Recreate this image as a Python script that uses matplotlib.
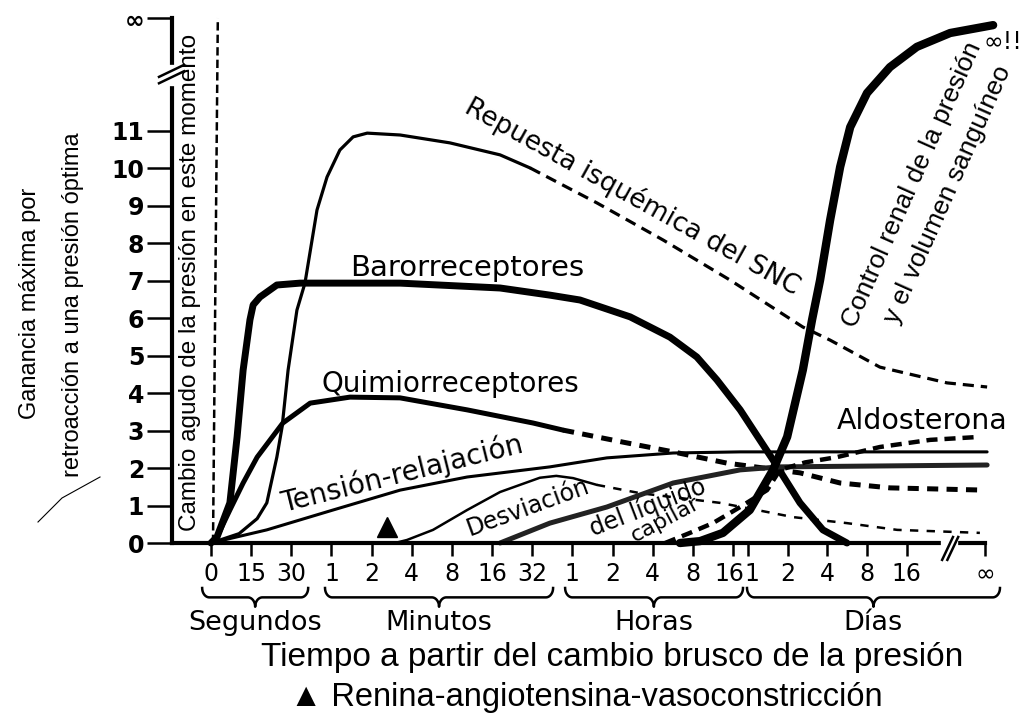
import numpy as np
import matplotlib
matplotlib.use('Agg')
import matplotlib.pyplot as plt
from matplotlib.lines import Line2D
from matplotlib.transforms import ScaledTranslation

plt.rcParams['font.family'] = ['DejaVu Sans']
plt.rcParams['lines.scale_dashes'] = False
helv = ['Liberation Sans', 'DejaVu Sans']

# x tick slots (one slot per tick, days shifted a bit) and labels
tick_pos = [0, 1, 2, 3, 4, 5, 6, 7, 8, 9, 10, 11, 12, 13,
            13.37, 14.36, 15.35, 16.34, 17.33, 19.28]
tick_lab = ['0', '15', '30', '1', '2', '4', '8', '16', '32',
            '1', '2', '4', '8', '16', '1', '2', '4', '8', '16', '∞']
y_ticks = [0, 1, 2, 3, 4, 5, 6, 7, 8, 9, 10, 11, 14]
y_lab = ['0', '1', '2', '3', '4', '5', '6', '7', '8', '9', '10', '11', '∞']

groups = ['Segundos', 'Minutos', 'Horas', 'Días']
group_span = [(-0.22, 2.42, 1.1), (2.84, 8.52, 5.68), (8.82, 13.25, 11.03), (13.35, 19.65, 16.5)]

# curves (x in tick slots, y = gain)
baro_x = [0, 0.15, 0.47, 0.65, 0.80, 0.97, 1.05, 1.22, 1.64, 2.22, 4.71, 7.20, 8.44, 9.19,
          10.44, 11.43, 12.10, 12.60, 13.18, 14.00, 14.67, 15.24, 15.84]
baro_y = [0, 0.16, 1.07, 2.83, 4.61, 5.95, 6.35, 6.56, 6.88, 6.93, 6.93, 6.80, 6.61, 6.48,
          6.03, 5.49, 4.96, 4.35, 3.55, 2.21, 1.07, 0.35, 0]

cns_x = [0, 0.7, 1.15, 1.39, 1.64, 1.77, 1.92, 2.14, 2.34, 2.64, 2.89, 3.21, 3.54, 3.89,
         4.71, 5.95, 7.20, 7.95]
cns_y = [0, 0.25, 0.65, 1.07, 2.29, 3.09, 4.61, 6.21, 6.93, 8.88, 9.76, 10.48, 10.83, 10.93,
         10.88, 10.67, 10.35, 10.0]
cns_dx = [7.95, 9.61, 11.26, 12.93, 14.74, 15.42, 16.66, 18.33, 19.33]
cns_dy = [10.0, 9.07, 8.08, 7.01, 5.76, 5.41, 4.69, 4.27, 4.16]

quim_x = [0, 0.15, 0.47, 0.80, 1.15, 1.79, 2.47, 3.46, 4.71, 6.38, 8.02, 8.77]
quim_y = [0, 0.16, 0.88, 1.6, 2.29, 3.2, 3.73, 3.89, 3.87, 3.55, 3.2, 3.01]
quim_dx = [8.77, 10.26, 11.51, 12.85, 14.67, 15.67, 16.91, 19.28]
quim_dy = [3.01, 2.69, 2.43, 2.13, 1.87, 1.6, 1.47, 1.41]

tens_x = [0, 1.39, 3.04, 4.71, 6.38, 8.44, 9.86, 11.51, 13.18, 19.33]
tens_y = [0, 0.35, 0.88, 1.41, 1.76, 2.03, 2.27, 2.40, 2.43, 2.43]

ren_x = [4.58, 4.88, 5.53, 6.38, 7.20, 8.19, 8.6, 9.02, 9.61]
ren_y = [0, 0.08, 0.35, 0.88, 1.36, 1.74, 1.79, 1.73, 1.55]
ren_dx = [9.61, 10.68, 12.68, 13.60, 14.50, 15.84, 17.09, 19.15]
ren_dy = [1.55, 1.33, 1.07, 0.88, 0.69, 0.53, 0.35, 0.27]
ren_mark = (4.38, 0.43)

cap_x = [7.2, 8.44, 9.86, 11.51, 13.18, 14.17, 19.33]
cap_y = [0, 0.53, 0.96, 1.6, 1.95, 2.03, 2.08]

aldo_x = [11.31, 11.93, 12.5, 13.18, 13.85, 14.17, 14.8, 15.59, 16.66, 17.91, 19.15]
aldo_y = [0, 0.27, 0.53, 0.96, 1.41, 1.95, 2.15, 2.29, 2.56, 2.75, 2.83]

renal_x = [11.68, 12.18, 12.75, 13.42, 14.0, 14.35, 14.74, 14.97, 15.17, 15.42, 15.67,
           15.92, 16.34, 16.91, 17.58, 18.41, 19.48]
renal_y = [0, 0.05, 0.27, 0.88, 1.95, 2.83, 4.61, 5.95, 7.01, 8.61, 10.03,
           11.09, 12.0, 12.69, 13.23, 13.6, 13.81]

fig = plt.figure(figsize=(10.23, 7.15), dpi=100)
ax = fig.add_axes([150 / 1023, 155 / 715, 873 / 1023, 560 / 715])
ax.set_xlim(-1.5193, 20.224)
ax.set_ylim(-0.4533, 14.48)
x_left = -0.971

for s in ['top', 'right']:
    ax.spines[s].set_visible(False)
ax.spines['left'].set_position(('data', x_left))
ax.spines['bottom'].set_position(('data', 0))
ax.spines['left'].set_bounds(0, 14)
ax.spines['bottom'].set_bounds(x_left, 19.28)
ax.spines['left'].set_linewidth(3)
ax.spines['bottom'].set_linewidth(3)

ax.set_xticks(tick_pos)
ax.set_xticklabels(tick_lab)
ax.set_yticks(y_ticks)
ax.set_yticklabels(y_lab, fontweight='bold')
ax.tick_params(axis='x', length=9, width=1.8, pad=5, labelsize=17)
ax.tick_params(axis='y', length=18, width=1.8, pad=2, labelsize=17)

# "16" (hours) and "1" (days) sit nearly on top of each other: nudge apart a little
xlabs = ax.get_xticklabels()
for i, shift in ((13, -4), (14, 4)):
    xlabs[i].set_transform(xlabs[i].get_transform() +
                           ScaledTranslation(shift / 100, 0, fig.dpi_scale_trans))

kw = dict(color='black', clip_on=False, solid_capstyle='round', solid_joinstyle='round')
ax.plot(baro_x, baro_y, lw=5, **kw)
ax.plot(cns_x, cns_y, lw=2.3, **kw)
ax.plot(cns_dx, cns_dy, lw=2.3, dashes=(8, 5), **kw)
ax.plot(quim_x, quim_y, lw=3.6, **kw)
ax.plot(quim_dx, quim_dy, lw=3.6, dashes=(8, 6), **kw)
ax.plot(tens_x, tens_y, lw=2.2, **kw)
ax.plot(ren_x, ren_y, lw=1.8, **kw)
ax.plot(ren_dx, ren_dy, lw=1.8, dashes=(6, 6), **kw)
ax.plot(cap_x, cap_y, lw=3.6, color='#222222', clip_on=False, solid_capstyle='round')
ax.plot(aldo_x, aldo_y, lw=3.2, color='black', clip_on=False, dashes=(8, 5))
ax.plot(renal_x, renal_y, lw=6, **kw)
ax.plot([ren_mark[0]], [ren_mark[1]], marker='^', ms=15, color='black', clip_on=False)

# vertical dashed line "cambio agudo"
ax.plot([0.05, 0.17], [0, 14], color='black', lw=1.8, dashes=(6, 3), clip_on=False)

# axis breaks
ax.plot([x_left, x_left], [12.3, 12.65], color='white', lw=6, zorder=5, clip_on=False)
for dy in (0, 0.17):
    ax.plot([-1.295, -0.672], [12.26 + dy, 12.58 + dy], color='black', lw=1.8, zorder=6, clip_on=False)
ax.plot([18.28, 18.5], [0, 0], color='white', lw=6, zorder=5, clip_on=False)
for dx in (0, 0.13):
    ax.plot([18.21 + dx, 18.48 + dx], [-0.45, 0.16], color='black', lw=1.8, zorder=6, clip_on=False)

# braces and group labels
def brace(x0, x1, xm, y0, h, r=0.18):
    t = np.linspace(0, np.pi / 2, 15)
    lx = np.concatenate([x0 + r - r * np.cos(t), xm - r + r * np.sin(t)])
    ly = np.concatenate([y0 - h / 2 * np.sin(t), y0 - h + h / 2 * np.cos(t)])
    rx = np.concatenate([xm + r - r * np.sin(t[::-1]), x1 - r + r * np.cos(t[::-1])])
    ry = np.concatenate([y0 - h + h / 2 * np.cos(t[::-1]), y0 - h / 2 * np.sin(t[::-1])])
    ax.plot(np.concatenate([lx, rx]), np.concatenate([ly, ry]),
            color='black', lw=1.8, clip_on=False)

for (x0, x1, xm), name in zip(group_span, groups):
    brace(x0, x1, xm, -1.2, 0.5)
    ax.text(xm, -2.12, name, ha='center', va='center', fontsize=19.5)

ax.text(9.99, -3.05, 'Tiempo a partir del cambio brusco de la presión', ha='center',
        va='center', fontsize=24, family=helv)
ax.text(9.35, -4.12, '▲ Renina-angiotensina-vasoconstricción', ha='center',
        va='center', fontsize=23.5, family=helv)

fig.text(30 / 1023, 1 - 303 / 715, 'Ganancia máxima por', rotation=90,
         ha='center', va='center', fontsize=17, family=helv)
fig.text(73 / 1023, 1 - 305 / 715, 'retroacción a una presión óptima', rotation=90,
         ha='center', va='center', fontsize=17, family=helv)
ax.text(-0.52, 6.96, 'Cambio agudo de la presión en este momento', rotation=90,
        ha='center', va='center', fontsize=17.5, family=helv)

# curve labels
lab = dict(ha='center', va='center', rotation_mode='anchor')
ax.text(6.38, 7.33, 'Barorreceptores', fontsize=21, **lab)
ax.text(5.95, 4.24, 'Quimiorreceptores', fontsize=20, **lab)
ax.text(10.49, 9.23, 'Repuesta isquémica del SNC', rotation=-29, fontsize=19, **lab)
ax.text(4.76, 1.84, 'Tensión-relajación', rotation=14, fontsize=20, **lab)
ax.text(7.9, 0.96, 'Desviación', rotation=20, fontsize=17, **lab)
ax.text(10.88, 0.96, 'del líquido', rotation=21, fontsize=17, **lab)
ax.text(11.31, 0.64, 'capilar', rotation=28, fontsize=16, **lab)
ax.text((912 - 211) / 40.15, (543 - 185) / 37.5, 'Control renal de la presión',
        rotation=66, fontsize=19, family=helv, **lab)
ax.text((948 - 211) / 40.15, (543 - 195) / 37.5, 'y el volumen sanguíneo',
        rotation=66, fontsize=19, family=helv, **lab)
ax.text(17.71, 3.25, 'Aldosterona', fontsize=20.5, **lab)
ax.text(19.73, 13.36, '∞!!', ha='center', va='center', fontsize=17)

# stray pen stroke at the left
fig.add_artist(Line2D([38 / 1023, 62 / 1023, 100 / 1023],
                      [1 - 522 / 715, 1 - 498 / 715, 1 - 477 / 715],
                      color='black', lw=0.8))

fig.savefig('out.png', dpi=100)
